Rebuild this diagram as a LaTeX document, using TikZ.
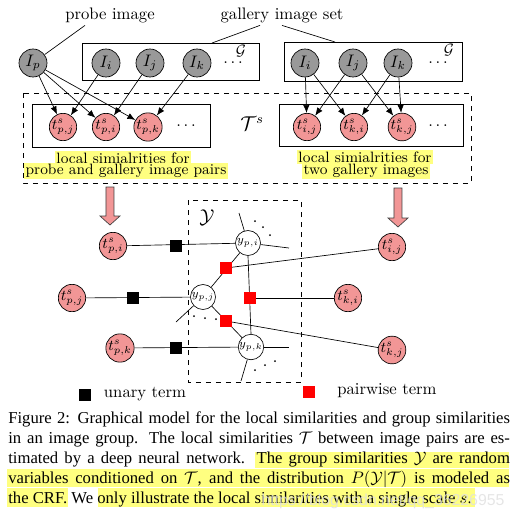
\documentclass[tikz,border=0pt]{standalone}
\usepackage{fontspec}
\newfontfamily\capfont{Liberation Serif}
\newfontfamily\wmfont{Liberation Sans}
\usetikzlibrary{arrows.meta}
\usetikzlibrary{calc}
\tikzset{>={Latex[length=4.8pt,width=3.8pt]}}
\colorlet{imggray}{black!40}
\definecolor{simpink}{RGB}{242,150,150}
\definecolor{hlyellow}{RGB}{255,255,128}
\tikzstyle{imgnode}=[circle,draw,fill=imggray,minimum size=16.8pt,inner sep=0]
\tikzstyle{simnode}=[circle,draw,fill=simpink,minimum size=16.4pt,inner sep=0,font=\small]
\tikzstyle{ynode}=[circle,draw,fill=white,minimum size=15pt,inner sep=0,font=\scriptsize]
\tikzstyle{unary}=[rectangle,fill=black,minimum width=7.4pt,minimum height=6.8pt,inner sep=0]
\tikzstyle{pairwise}=[rectangle,fill=red,minimum size=7pt,inner sep=0]
\tikzstyle{hlnote}=[fill=hlyellow,inner sep=0.7pt,font=\small]
\newcommand\blockArrow[3]{
	\draw[fill=simpink,draw=black!75] (#1-4,#2) -- (#1+4,#2) -- (#1+4,#3-9) -- (#1+10,#3-9)
	-- (#1,#3) -- (#1-10,#3-9) -- (#1-4,#3-9) -- cycle;
}

\begin{document}
\begin{tikzpicture}[x=0.6pt,y=-0.6pt]
	\useasboundingbox (0,0) rectangle (515,521);
	
	% IMAGES
	\node (probe) at (110,15) {probe image};
	\node (gallery) at (282,15) {gallery image set};
	\draw (82,43) rectangle (259,80);
	\draw (284,42) rectangle (462,81);
	\coordinate (Gl) at (212,43);
	\coordinate (Gr) at (335,42);
	\node[font=\small] at (241,51) {$\mathcal{G}$};
	\node[font=\small] at (449,50) {$\mathcal{G}$};
	\node[imgnode] (Ip) at (33,63) {$I_p$};
	\node[imgnode] (Ii) at (106,63) {$I_i$};
	\node[imgnode] (Ij) at (150,63) {$I_j$};
	\node[imgnode] (Ik) at (197,63) {$I_k$};
	\node at (233,63) {$\ldots$};
	\node[imgnode] (Ii2) at (305,63) {$I_i$};
	\node[imgnode] (Ij2) at (353,63) {$I_j$};
	\node[imgnode] (Ik2) at (398,63) {$I_k$};
	\node at (438,63) {$\ldots$};
	\draw (Ip) -- ($(probe.south)+(-25,-3)$);
	\draw (Gl) -- ($(gallery.south)+(-22,-3)$);
	\draw (Gr) -- ($(gallery.south)+(0,-3)$);
	
	% LOCAL SIMILARITIES
	\draw[dashed] (23,93) rectangle (471,183);
	\draw (32,104) rectangle (210,147);
	\draw (279,104) rectangle (463,146);
	\node[font=\large] at (252,124) {$\mathcal{T}^s$};
	\node[simnode] (tpj) at (63,127) {$t^s_{p,j}$};
	\node[simnode] (tpi) at (106,127) {$t^s_{p,i}$};
	\node[simnode] (tpk) at (148,127) {$t^s_{p,k}$};
	\node at (186,126) {$\ldots$};
	\node[simnode] (tij) at (307,127) {$t^s_{i,j}$};
	\node[simnode] (tki) at (354,127) {$t^s_{k,i}$};
	\node[simnode] (tkj) at (402,127) {$t^s_{k,j}$};
	\node at (438,126) {$\ldots$};
	\node[hlnote] at (123,158) {local simialrities for};
	\node[hlnote] at (126,171) {probe and gallery image pairs};
	\node[hlnote] at (365,157) {local simialrities for};
	\node[hlnote] at (366,171) {two gallery images};
	
	% ARROWS
	\foreach \t in {tpj,tpi,tpk} \draw[->] (Ip) -- (\t);
	\draw[->] (Ii) -- (tpj);
	\draw[->] (Ij) -- (tpi);
	\draw[->] (Ik) -- (tpk);
	\draw[->] (Ii2) -- (tij);
	\draw[->] (Ii2) -- (tki);
	\draw[->] (Ij2) -- (tij);
	\draw[->] (Ij2) -- (tkj);
	\draw[->] (Ik2) -- (tki);
	\draw[->] (Ik2) -- (tkj);
	\blockArrow{110}{187}{225}
	\blockArrow{398}{188}{227}
	
	% CRF
	\draw[dashed] (188,200) rectangle (301,382);
	\node[font=\large] at (207,218) {$\mathcal{Y}$};
	\node[simnode] (Tpi) at (113,246) {$t^s_{p,i}$};
	\node[simnode] (Tpj) at (72,298) {$t^s_{p,j}$};
	\node[simnode] (Tpk) at (120,348) {$t^s_{p,k}$};
	\node[simnode] (Tij) at (392,247) {$t^s_{i,j}$};
	\node[simnode] (Tki) at (348,298) {$t^s_{k,i}$};
	\node[simnode] (Tkj) at (392,350) {$t^s_{k,j}$};
	\node[ynode] (ypi) at (248,243) {$y_{p,i}$};
	\node[ynode] (ypj) at (203,297) {$y_{p,j}$};
	\node[ynode] (ypk) at (251,347) {$y_{p,k}$};
	\coordinate (u1) at (176,246);
	\coordinate (u2) at (133,298);
	\coordinate (u3) at (176,348);
	\coordinate (p1) at (226,268);
	\coordinate (p2) at (250,298);
	\coordinate (p3) at (226,321);
	\draw (Tpi) -- (ypi);
	\draw (Tpj) -- (ypj);
	\draw (Tpk) -- (ypk);
	\draw (ypi) -- (ypj);
	\draw (ypj) -- (ypk);
	\draw (ypi.south) -- (ypk.north);
	\draw (p1) -- (Tij);
	\draw (p2) -- (Tki);
	\draw (p3) -- (Tkj);
	% loose ends
	\coordinate (ai) at (239,213);
	\coordinate (bi) at (289,248);
	\coordinate (aj) at (176,322);
	\coordinate (ak) at (289,347);
	\coordinate (bk) at (241,381);
	\draw (ypi) -- (ai);
	\draw (ypi) -- (bi);
	\draw (ypj) -- (aj);
	\draw (ypk) -- (ak);
	\draw (ypk) -- (bk);
	\foreach \px/\py in {255/221,263/227,270/235,194/316,205/318,216/319,255/370,265/365,275/361}
	\fill (\px,\py) circle (0.6pt);
	\foreach \u in {u1,u2,u3} \node[unary] at (\u) {};
	\foreach \p in {p1,p2,p3} \node[pairwise] at (\p) {};
	
	% LEGEND
	\node[unary] (lu) at (85,395) {};
	\node (lut) at (145,394) {unary term};
	\node[pairwise] (lp) at (309,392) {};
	\node (lpt) at (387,391) {pairwise term};
	
	% CAPTION
	\fill[hlyellow] (255,452) rectangle (509,468);
	\fill[hlyellow] (7,469) rectangle (509,487);
	\fill[hlyellow] (7,488) rectangle (68,507);
	\fill[hlyellow] (98,488) rectangle (475,507);
	\node[anchor=north west,inner sep=0,text width=301pt,align=justify,font=\capfont] (cap) at (8,411)
	{Figure 2: Graphical model for the local similarities and group similarities\linebreak
		in an image group. The local similarities $\mathcal{T}$ between image pairs are es-\linebreak
		timated by a deep neural network. The group similarities $\mathcal{Y}$ are random\linebreak
		variables conditioned on $\mathcal{T}$, and the distribution $P(\mathcal{Y}|\mathcal{T})$ is modeled as\linebreak
		the CRF. We only illustrate the local similarities with a single scale $s$.};
	\node[font=\wmfont\fontsize{9.5}{11}\selectfont,text=white!75!gray,text opacity=0.8] (wm) at (383,501)
	{https://blog.csdn.net/qq\_36226955};
	
\end{tikzpicture}
\end{document}
